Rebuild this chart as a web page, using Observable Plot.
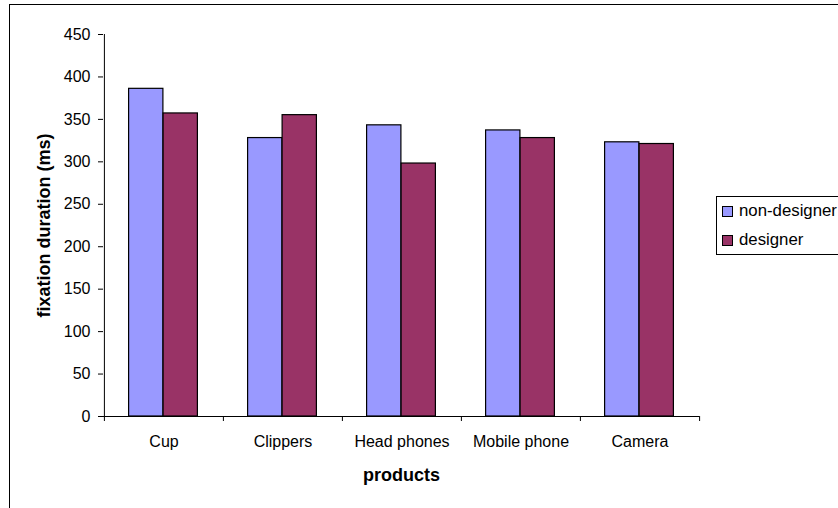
<!DOCTYPE html>
<html>
<head>
<meta charset="utf-8">
<script src="https://cdn.jsdelivr.net/npm/d3@7"></script>
<script src="https://cdn.jsdelivr.net/npm/@observablehq/plot@0.6"></script>
<style>
  html, body { margin: 0; padding: 0; background: #fff; }
  #chart {
    position: relative; width: 838px; height: 508px; overflow: hidden;
    font-family: "Liberation Sans", Arial, sans-serif; color: #000; background: #fff;
  }
  #chart svg { position: absolute; left: 0; top: 0; }
  .outline {
    position: absolute; left: 9px; top: 4px; width: 1000px; height: 1000px;
    border-left: 1px solid #000; border-top: 1px solid #000; pointer-events: none;
  }
  .legend {
    position: absolute; left: 716px; top: 196px; width: 140px; height: 57px;
    border: 1px solid #000; background: #fff; font-size: 16.8px;
  }
  .legend .item { position: absolute; left: 5px; display: flex; align-items: center; }
  .legend .sw { width: 9px; height: 9px; border: 1px solid #000; margin-right: 6px; }
</style>
</head>
<body>
<div id="chart"></div>
<script>
// Mean fixation duration per product, split by viewer group
const categories = ["Cup", "Clippers", "Head phones", "Mobile phone", "Camera"];
const series = ["non-designer", "designer"];
const nonDesigner = [386, 328, 343, 337, 323];
const designer = [357, 355, 298, 328, 321];
const yTicks = [0, 50, 100, 150, 200, 250, 300, 350, 400, 450];

const colors = ["#9999FF", "#993366"];

const rows = [];
categories.forEach((c, i) => {
  rows.push({product: c, group: series[0], value: nonDesigner[i]});
  rows.push({product: c, group: series[1], value: designer[i]});
});

const width = 838, height = 508;
const margin = {top: 34, right: 139, bottom: 92, left: 103};
const band = (width - margin.left - margin.right) / categories.length;
const barW = 34.5;  // each group's bar width inside a product band
const shift = -0.5; // small offset of the bar pair from the band centre

const plot = Plot.plot({
  width, height,
  marginTop: margin.top, marginRight: margin.right,
  marginBottom: margin.bottom, marginLeft: margin.left,
  style: {fontFamily: '"Liberation Sans", Arial, sans-serif', color: "#000", background: "#fff", overflow: "visible"},
  x: {domain: categories, padding: 0, label: null},
  y: {domain: [0, 450], label: null},
  color: {domain: series, range: colors},
  marks: [
    // bars, one mark per group, side by side within each product band
    Plot.barY(rows.filter(d => d.group === series[0]), {
      x: "product", y: "value", fill: "group", stroke: "#000", strokeWidth: 1.2,
      insetLeft: band / 2 - barW + shift, insetRight: band / 2 - shift
    }),
    Plot.barY(rows.filter(d => d.group === series[1]), {
      x: "product", y: "value", fill: "group", stroke: "#000", strokeWidth: 1.2,
      insetLeft: band / 2 + shift, insetRight: band / 2 - barW - shift
    }),
    // axis lines
    Plot.ruleY([0], {stroke: "#000"}),
    Plot.ruleX([categories[0]], {dx: -band / 2, stroke: "#000"}),
    // category boundary ticks below the baseline
    Plot.tickX(categories, {dx: -band / 2, stroke: "#000", insetTop: height - margin.top - margin.bottom, insetBottom: -5}),
    Plot.tickX([categories[categories.length - 1]], {dx: band / 2, stroke: "#000", insetTop: height - margin.top - margin.bottom, insetBottom: -5}),
    Plot.axisY({ticks: yTicks, tickSize: 5, tickPadding: 8, fontSize: 16, label: null, stroke: "#000"}),
    Plot.axisX({tickSize: 0, tickPadding: 19, fontSize: 16, label: null}),
    // axis titles
    Plot.text(["fixation duration (ms)"], {
      frameAnchor: "left", textAnchor: "middle", lineAnchor: "middle",
      rotate: -90, dx: -59, fontSize: 18, fontWeight: "bold"
    }),
    Plot.text(["products"], {
      frameAnchor: "bottom", textAnchor: "middle", lineAnchor: "middle",
      dy: 59, fontSize: 18, fontWeight: "bold"
    })
  ]
});

const chart = document.getElementById("chart");
chart.appendChild(plot);

const outline = document.createElement("div");
outline.className = "outline";
chart.appendChild(outline);

// legend
const legend = document.createElement("div");
legend.className = "legend";
series.forEach((s, i) => {
  const item = document.createElement("div");
  item.className = "item";
  item.style.top = (i === 0 ? 4 : 33) + "px";
  const sw = document.createElement("span");
  sw.className = "sw";
  sw.style.background = colors[i];
  const label = document.createElement("span");
  label.textContent = s;
  item.appendChild(sw);
  item.appendChild(label);
  legend.appendChild(item);
});
chart.appendChild(legend);
</script>
</body>
</html>
